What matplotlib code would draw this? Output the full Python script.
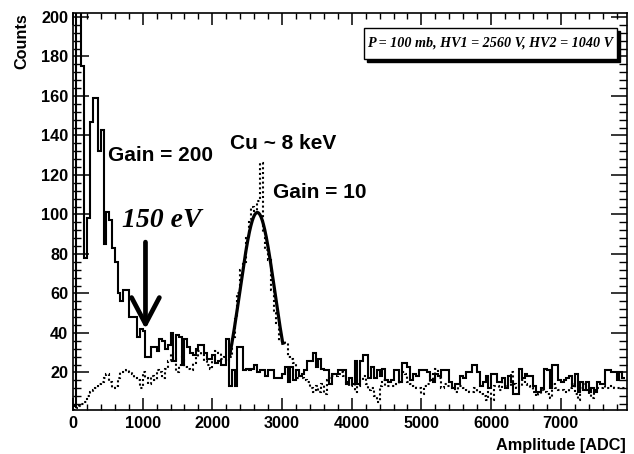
import numpy as np
import matplotlib
matplotlib.use("Agg")
import matplotlib.pyplot as plt
from matplotlib.patches import Rectangle

# ---------------- data ----------------
bin_width = 40  # ADC units per bin

gain200_counts = [
    3, 250, 250, 175, 78, 98, 147, 159, 159, 132,
    143, 85, 101, 97, 83, 76, 60, 56, 62, 62,
    48, 48, 48, 38, 42, 41, 28, 28, 33, 33,
    31, 37, 36, 32, 34, 40, 26, 39, 38, 24,
    37, 33, 30, 29, 32, 34, 34, 30, 27, 27,
    29, 25, 26, 24, 24, 37, 13, 21, 13, 33,
    33, 21, 22, 21, 22, 24, 20, 21, 21, 18,
    21, 21, 17, 17, 17, 19, 23, 15, 23, 16,
    21, 18, 19, 21, 26, 26, 30, 23, 27, 22,
    21, 21, 14, 19, 19, 21, 21, 21, 14, 17,
    14, 26, 14, 26, 29, 29, 17, 23, 17, 21,
    18, 22, 16, 15, 16, 21, 21, 15, 25, 25,
    23, 16, 19, 18, 21, 21, 21, 20, 16, 15,
    19, 18, 21, 21, 21, 15, 12, 14, 14, 18,
    17, 20, 20, 24, 24, 20, 13, 15, 18, 12,
    19, 19, 15, 15, 17, 12, 18, 15, 9, 9,
    22, 17, 19, 18, 18, 13, 10, 10, 12, 22,
    21, 12, 24, 24, 16, 15, 16, 17, 18, 13,
    19, 10, 15, 11, 15, 10, 12, 10, 15, 14,
    14, 21, 21, 20, 20, 16, 20, 17,
]

gain10_counts = [
    1, 2, 3, 4, 5, 8, 10, 11, 12, 14,
    15, 17, 19, 15, 12, 13, 17, 20, 20, 21,
    20, 19, 17, 16, 12, 20, 17, 14, 18, 16,
    21, 20, 17, 22, 26, 30, 27, 20, 24, 28,
    23, 22, 21, 25, 28, 31, 29, 26, 24, 22,
    26, 31, 30, 27, 28, 26, 28, 38, 47, 60,
    72, 76, 88, 97, 104, 102, 107, 126, 91, 82,
    77, 62, 50, 45, 36, 36, 35, 28, 27, 25,
    17, 18, 17, 16, 15, 12, 10, 13, 10, 14,
    9, 16, 17, 18, 18, 19, 20, 18, 15, 13,
    14, 10, 13, 16, 18, 14, 11, 12, 8, 5,
    13, 16, 13, 13, 13, 13, 14, 15, 20, 19,
    15, 14, 13, 12, 12, 9, 13, 14, 19, 16,
    22, 17, 12, 14, 13, 13, 12, 10, 13, 13,
    12, 11, 10, 10, 12, 10, 9, 8, 6, 10,
    6, 13, 13, 11, 15, 13, 13, 20, 14, 12,
    13, 16, 14, 13, 12, 10, 8, 9, 11, 10,
    9, 7, 14, 12, 11, 11, 10, 10, 12, 14,
    9, 6, 12, 14, 11, 9, 7, 11, 12, 12,
    13, 12, 12, 13, 12, 12, 12, 12,
]

# Gaussian fit of the Cu peak (Gain = 10)
fit_amplitude = 101.0
fit_mean = 2645.0
fit_sigma = 250.0
fit_start, fit_stop = 2250.0, 3010.0

x_ticks = [0, 1000, 2000, 3000, 4000, 5000, 6000, 7000]
y_ticks = [20, 40, 60, 80, 100, 120, 140, 160, 180, 200]
x_limits = (0, 7950)
y_limits = (1, 202)

# ---------------- figure ----------------
SANS = ["Liberation Sans", "DejaVu Sans"]
SERIF = ["Liberation Serif", "DejaVu Serif"]
plt.rcParams["font.family"] = SANS

W, H = 634, 454
fig = plt.figure(figsize=(W / 100, H / 100), dpi=100)
L, R, T, B = 73, 627, 13, 410
ax = fig.add_axes([L / W, 1 - B / H, (R - L) / W, (B - T) / H])

edges = np.arange(len(gain200_counts) + 1) * bin_width
ax.stairs(gain200_counts, edges, baseline=None, color="black", lw=1.5)
ax.stairs(gain10_counts, edges, baseline=None, color="black", lw=1.5,
          linestyle=(0, (1, 1.3)))

xf = np.linspace(fit_start, fit_stop, 200)
yf = fit_amplitude * np.exp(-0.5 * ((xf - fit_mean) / fit_sigma) ** 2)
ax.plot(xf, yf, color="black", lw=2.3)

ax.set_xlim(*x_limits)
ax.set_ylim(*y_limits)
ax.set_xticks(x_ticks)
ax.set_yticks(y_ticks)
ax.set_xticks(np.arange(0, x_limits[1], 200), minor=True)
ax.set_yticks(np.arange(4, 202, 4), minor=True)
ax.tick_params(direction="in", top=True, right=True, width=1.1)
ax.tick_params(which="minor", direction="in", top=True, right=True, width=1.0)
ax.tick_params(axis="x", which="major", length=8.6, pad=4.5)
ax.tick_params(axis="x", which="minor", length=4.3)
ax.tick_params(axis="y", which="major", length=11.5, pad=3.5)
ax.tick_params(axis="y", which="minor", length=5.8)
for lab in ax.get_xticklabels() + ax.get_yticklabels():
    lab.set_fontweight("bold")
    lab.set_fontsize(11.7)
for s in ax.spines.values():
    s.set_linewidth(1.2)

ax.set_xlabel("Amplitude [ADC]", loc="right", fontsize=11.7, fontweight="bold")
ax.xaxis.set_label_coords(0.997, -0.071)
ax.set_ylabel("Counts", loc="top", fontsize=11.7, fontweight="bold")
ax.yaxis.set_label_coords(-0.078, 1.0)

# annotations
ax.text(500, 130, "Gain = 200", fontsize=15, fontweight="bold", va="center", ha="left")
ax.text(2257, 136, "Cu ~ 8 keV", fontsize=15, fontweight="bold", va="center", ha="left")
ax.text(2870, 111, "Gain = 10", fontsize=15, fontweight="bold", va="center", ha="left")
ax.text(710, 97, "150 eV", fontsize=20, fontweight="bold", fontstyle="italic",
        family=SERIF, va="center", ha="left")
ax.annotate("", xy=(1040, 42), xytext=(1040, 86),
            arrowprops=dict(arrowstyle="->,head_length=19,head_width=10",
                            mutation_scale=1, lw=3.4, color="black",
                            shrinkA=0, shrinkB=0))

# info box with shadow
bx0, bx1, by0, by1 = 364 / W, 617 / W, 1 - 59 / H, 1 - 28 / H
sh = 3
fig.patches.append(Rectangle((bx0 + sh / W, by0 - sh / H), bx1 - bx0, by1 - by0,
                             transform=fig.transFigure, facecolor="black",
                             edgecolor="black", zorder=5))
fig.patches.append(Rectangle((bx0, by0), bx1 - bx0, by1 - by0,
                             transform=fig.transFigure, facecolor="white",
                             edgecolor="black", lw=1.0, zorder=6))
fig.text((bx0 + bx1) / 2, (by0 + by1) / 2,
         "P = 100 mb, HV1 = 2560 V, HV2 = 1040 V", family=SERIF,
         fontsize=10.2, fontweight="bold", fontstyle="italic",
         ha="center", va="center", zorder=7)

fig.savefig("out.png", dpi=100)
